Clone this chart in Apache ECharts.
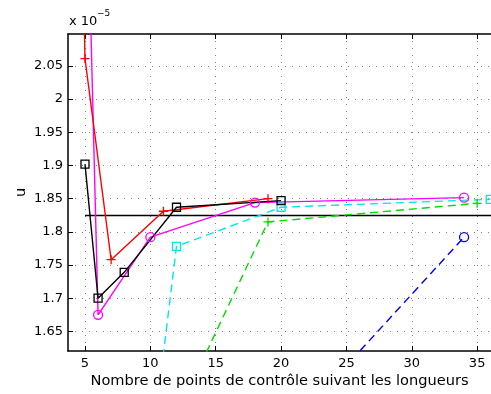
<!DOCTYPE html>
<html>
<head>
<meta charset="utf-8">
<script src="https://cdn.jsdelivr.net/npm/echarts@6/dist/echarts.min.js"></script>
<style>html,body{margin:0;padding:0;background:#fff;}#c{width:491px;height:394px;}</style>
</head>
<body>
<div id="c"></div>
<script>
// ---- data (y values in units of 1e-5) ----
var xTicks = [5, 10, 15, 20, 25, 30, 35];
var yTicks = [1.65, 1.7, 1.75, 1.8, 1.85, 1.9, 1.95, 2, 2.05];

var redX = [4, 5, 7, 11, 19];
var redY = [3.0, 2.061, 1.758, 1.831, 1.850];

var magentaX = [5, 6, 10, 18, 34];
var magentaY = [2.46, 1.675, 1.792, 1.844, 1.8515];

var blackX = [5, 6, 8, 12, 20];
var blackY = [1.902, 1.700, 1.739, 1.837, 1.847];

var cyanX = [10, 12, 20, 36];
var cyanY = [1.456, 1.778, 1.837, 1.849];

var greenX = [13, 19, 35];
var greenY = [1.565, 1.815, 1.843];

var blueX = [20, 34];
var blueY = [1.491, 1.792];

var refX = [5, 40];
var refY = [1.8245, 1.8245];

var xLabel = 'Nombre de points de contrôle suivant les longueurs';
var yLabel = 'u';

function pairs(xs, ys) { return xs.map(function (x, i) { return [x, ys[i]]; }); }

var FONT = 'DejaVu Sans';
var PLUS = 'path://M0,5L10,5M5,0L5,10';

function mk(name, xs, ys, color, symbol, size, dashed) {
  return {
    name: name, type: 'line', data: pairs(xs, ys), clip: true,
    symbol: symbol, symbolSize: size, showSymbol: !!symbol,
    lineStyle: { color: color, width: 1.4, type: dashed ? [8, 5] : 'solid' },
    itemStyle: { color: 'transparent', borderColor: color, borderWidth: 1.3 },
    emphasis: { disabled: true }, animation: false, z: 3
  };
}

var gridLine = { show: true, lineStyle: { color: '#808080', width: 1, type: [1, 6] } };

var chart = echarts.init(document.getElementById('c'), null, { renderer: 'canvas' });
chart.setOption({
  animation: false,
  backgroundColor: '#fff',
  grid: { left: 68, right: 0, top: 34, bottom: 41, containLabel: false },
  xAxis: [{
    type: 'value', position: 'bottom', min: 3.7, max: 36.06,
    axisLine: { show: true, onZero: false, lineStyle: { color: '#000', width: 1.5 } },
    axisTick: { show: true, inside: true, length: 5, customValues: xTicks, lineStyle: { color: '#000' } },
    axisLabel: { customValues: xTicks, fontFamily: FONT, fontSize: 13, color: '#000', margin: 6 },
    splitLine: gridLine,
    name: xLabel, nameLocation: 'middle', nameGap: 23, nameMoveOverlap: false,
    nameTextStyle: { fontFamily: FONT, fontSize: 14.6, color: '#000', verticalAlign: 'top' }
  }, {
    type: 'value', position: 'top', min: 3.7, max: 36.06,
    axisLine: { show: true, onZero: false, lineStyle: { color: '#000', width: 1.5 } },
    axisTick: { show: true, inside: true, length: 5, customValues: xTicks, lineStyle: { color: '#000' } },
    axisLabel: { show: false }, splitLine: { show: false }
  }],
  yAxis: [{
    type: 'value', position: 'left', min: 1.6205, max: 2.098,
    axisLine: { show: true, onZero: false, lineStyle: { color: '#000', width: 1.5 } },
    axisTick: { show: true, inside: true, length: 5, customValues: yTicks, lineStyle: { color: '#000' } },
    axisLabel: { customValues: yTicks, fontFamily: FONT, fontSize: 13, color: '#000', margin: 5,
      formatter: function (v) { return String(Math.round(v * 100) / 100); } },
    splitLine: gridLine,
    name: yLabel, nameLocation: 'middle', nameGap: 39, nameRotate: 90, nameMoveOverlap: false,
    nameTextStyle: { fontFamily: FONT, fontSize: 14.6, color: '#000' }
  }],
  graphic: [
    { type: 'text', left: 69, top: 15, style: { text: 'x 10', font: '13px "DejaVu Sans"', fill: '#000' } },
    { type: 'text', left: 97, top: 9, style: { text: '\u22125', font: '9px "DejaVu Sans"', fill: '#000' } }
  ],
  series: [
    mk('ref', refX, refY, '#000', null, 0, false),
    mk('blue', blueX, blueY, '#0000ff', 'circle', 9, true),
    mk('green', greenX, greenY, '#00dd00', PLUS, 9, true),
    mk('cyan', cyanX, cyanY, '#00e5ee', 'rect', 8, true),
    mk('magenta', magentaX, magentaY, '#ff00ff', 'circle', 9, false),
    mk('red', redX, redY, '#ff0000', PLUS, 9, false),
    mk('black', blackX, blackY, '#000', 'rect', 8, false)
  ]
});
</script>
</body>
</html>
